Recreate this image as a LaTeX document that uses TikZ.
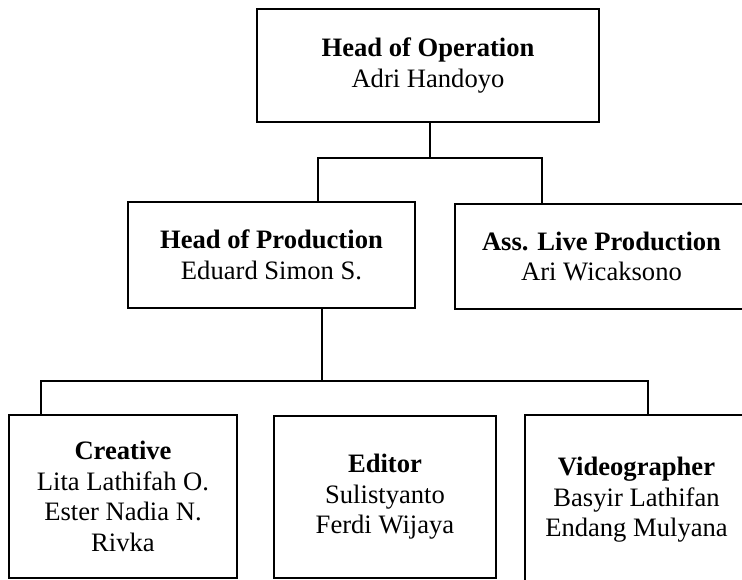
\documentclass[tikz,border=0pt]{standalone}
\usepackage{fontspec}
\setmainfont{Liberation Serif}
\begin{document}
\begin{tikzpicture}[x=1pt, y=-1pt]
	\tikzset{kotak/.style={draw=black, line width=1.4pt, align=center, inner sep=0pt,
		font=\fontsize{26.6}{30.5}\selectfont},
	garis/.style={line width=1.4pt}};

	\path[use as bounding box, clip] (0,0) rectangle (742,579);

	\node[kotak, minimum width=342, minimum height=113] (op) at (428, 65.5)
		{\textbf{Head of Operation}\\Adri Handoyo};

	\foreach \name/\x/\y/\w/\h/\isi in {hop/271.5/255/287/106/{\textbf{Head of Production}\\Eduard Simon S.},
		ass/601.5/256.5/293/105/{\textbf{Ass. Live Production}\\Ari Wicaksono}}{
		\node[kotak, minimum width=\w, minimum height=\h] (\name) at (\x, \y) {\isi};
	}

	\foreach \name/\x/\y/\w/\h/\isi in {cre/123/496.5/228/163/{\textbf{Creative}\\Lita Lathifah O.\\Ester Nadia N.\\Rivka},
		edi/385/497/222/162/{\textbf{Editor}\\Sulistyanto\\Ferdi Wijaya},
		vid/636.5/500/223/170/{\textbf{Videographer}\\Basyir Lathifan\\Endang Mulyana}}{
		\node[kotak, minimum width=\w, minimum height=\h] (\name) at (\x, \y) {\isi};
	}

	% cabang atas
	\coordinate (bar1) at (430, 158);
	\draw[garis] ([xshift=2]op.south) -- (bar1);
	\draw[garis] ([xshift=46.5]hop.north) |- (bar1) -| ([xshift=-59.5]ass.north);

	% cabang bawah
	\coordinate (bar2) at (322, 381);
	\draw[garis] ([xshift=50.5]hop.south) -- (bar2);
	\draw[garis] ([xshift=-82]cre.north) |- (bar2) -| ([xshift=11.5]vid.north);

\end{tikzpicture}
\end{document}
